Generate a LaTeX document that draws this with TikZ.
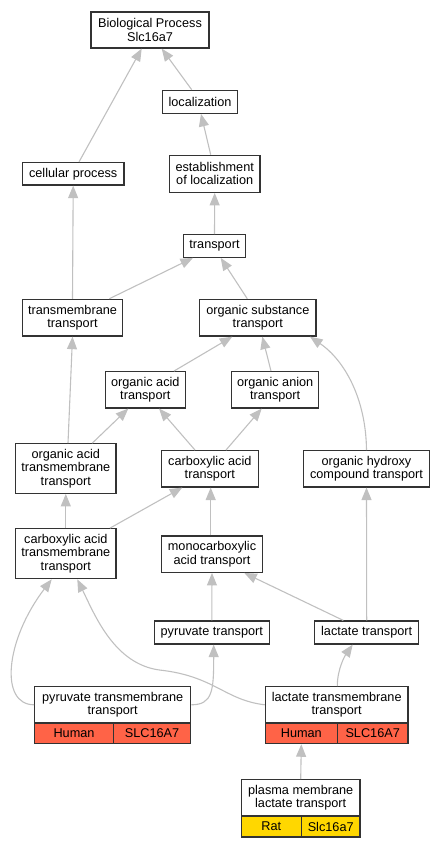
\documentclass[tikz,border=0pt]{standalone}
\usepackage{fontspec}
\setmainfont{Liberation Sans}
\usetikzlibrary{arrows.meta}
\definecolor{edgegray}{HTML}{C0C0C0}
\definecolor{bordergray}{HTML}{333333}
\definecolor{human}{HTML}{FF6347}
\definecolor{rat}{HTML}{FFD700}
\begin{document}
\begin{tikzpicture}[x=1pt,y=-1pt,
  box/.style={draw=bordergray, line width=1.2pt, fill=white, inner sep=0pt, align=center,
    font=\fontsize{12.7}{13.3}\selectfont},
  cell/.style={box, minimum height=20.7pt},
  edge/.style={draw=edgegray, line width=1.1pt, -{Triangle[length=12.5pt,width=10pt,fill=edgegray]}}
  ]
\useasboundingbox (0,0) rectangle (445,848);
% nodes
\node[box, minimum width=118pt, minimum height=36pt] (bp) at (150,30) {Biological Process\\Slc16a7};
\node[box, minimum width=74.6pt, minimum height=23pt] (loc) at (200,101.8) {localization};
\node[box, minimum width=101.7pt, minimum height=22.5pt] (cp) at (73.2,173.8) {cellular process};
\node[box, minimum width=90.7pt, minimum height=37pt] (est) at (214.7,173.8) {establishment\\of localization};
\node[box, minimum width=61.6pt, minimum height=22.6pt] (tr) at (214.5,246) {transport};
\node[box, minimum width=100.4pt, minimum height=36.7pt] (tmt) at (72.5,317.7) {transmembrane\\transport};
\node[box, minimum width=116.3pt, minimum height=36.7pt] (ost) at (257.8,317.7) {organic substance\\transport};
\node[box, minimum width=80pt, minimum height=36.3pt] (oat) at (145.3,389.8) {organic acid\\transport};
\node[box, minimum width=87pt, minimum height=36.3pt] (oant) at (275.2,389.8) {organic anion\\transport};
\node[box, minimum width=100.3pt, minimum height=49.6pt] (oatm) at (65.8,468.5) {organic acid\\transmembrane\\transport};
\node[box, minimum width=97pt, minimum height=36.3pt] (cat) at (209.8,468.8) {carboxylic acid\\transport};
\node[box, minimum width=125.7pt, minimum height=36.3pt] (ohc) at (366.5,468.8) {organic hydroxy\\compound transport};
\node[box, minimum width=100.3pt, minimum height=50pt] (catm) at (65.8,553.7) {carboxylic acid\\transmembrane\\transport};
\node[box, minimum width=101.3pt, minimum height=36.3pt] (mcat) at (212,554.2) {monocarboxylic\\acid transport};
\node[box, minimum width=115pt, minimum height=23pt] (pt) at (211.8,632.5) {pyruvate transport};
\node[box, minimum width=104pt, minimum height=23pt] (lt) at (366.7,632.5) {lactate transport};
% gene nodes
\node[box, minimum width=156pt, minimum height=36.3pt] (ptm) at (112.7,704.8) {pyruvate transmembrane\\transport};
\node[cell, fill=human, minimum width=78.6pt] (ptmH) at (74,733.3) {Human};
\node[cell, fill=human, minimum width=77.4pt] (ptmS) at (152,733.3) {SLC16A7};
\node[box, minimum width=142.7pt, minimum height=36.3pt] (ltm) at (336.7,704.8) {lactate transmembrane\\transport};
\node[cell, fill=human, minimum width=72pt] (ltmH) at (301.3,733.3) {Human};
\node[cell, fill=human, minimum width=70.7pt] (ltmS) at (372.7,733.3) {SLC16A7};
\node[box, minimum width=118.7pt, minimum height=36.3pt] (pml) at (300.7,797.8) {plasma membrane\\lactate transport};
\node[cell, fill=rat, minimum width=60pt, minimum height=21pt] (pmlR) at (271.3,826.5) {Rat};
\node[cell, fill=rat, minimum width=58.7pt, minimum height=21pt] (pmlS) at (330.7,826.5) {Slc16a7};
% edges
\draw[edge] ([xshift=5.8pt]cp.north) -- ([xshift=-8.3pt]bp.south);
\draw[edge] ([xshift=-8.3pt]loc.north) -- ([xshift=11.7pt]bp.south);
\draw[edge] ([xshift=-4pt]est.north) -- ([xshift=1pt]loc.south);
\draw[edge] (tr.north) -- (est.south);
\draw[edge] (tmt.north) -- (cp.south);
\draw[edge] ([xshift=36.8pt]tmt.north) -- ([xshift=-21.5pt]tr.south);
\draw[edge] ([xshift=-10.5pt]ost.north) -- ([xshift=6.2pt]tr.south);
\draw[edge] ([xshift=2.2pt]oatm.north) -- (tmt.south);
\draw[edge] ([xshift=28.7pt]oat.north) -- ([xshift=-25.5pt]ost.south);
\draw[edge] ([xshift=-4.2pt]oant.north) -- ([xshift=4.5pt]ost.south);
\draw[edge] (ohc.north) .. controls +(-0.5,-50.7) and +(35,24) .. ([xshift=52.2pt]ost.south);
\draw[edge] ([xshift=26.5pt]oatm.north) -- ([xshift=-17pt]oat.south);
\draw[edge] ([xshift=-14.8pt]cat.north) -- ([xshift=13.7pt]oat.south);
\draw[edge] ([xshift=16.2pt]cat.north) -- ([xshift=-13.5pt]oant.south);
\draw[edge] (catm.north) -- (oatm.south);
\draw[edge] ([xshift=44.2pt]catm.north) -- ([xshift=-27.5pt]cat.south);
\draw[edge] ([xshift=-1.3pt]mcat.north) -- ([xshift=0.9pt]cat.south);
\draw[edge] (lt.north) -- (ohc.south);
\draw[edge] (pt.north) -- (mcat.south);
\draw[edge] ([xshift=-23.4pt]lt.north) -- ([xshift=32.3pt]mcat.south);
\draw[edge] (ptm.west) .. controls +(-34.7,0) and +(-46.7,61.3) .. ([xshift=-14.1pt]catm.south);
\draw[edge] (ptm.east) .. controls +(21.3,0) and +(0,46) .. ([xshift=1.9pt]pt.south);
\draw[edge] (ltm.west) .. controls +(-40.3,-4.8) and +(55,6) .. ++(-105.3,-34.8)
  .. controls +(-45,-6) and +(17.7,36.3) .. ([xshift=11.5pt]catm.south);
\draw[edge] ([xshift=0.6pt]ltm.north) .. controls +(0,-17) and +(-7.7,11) .. ([xshift=-14pt]lt.south);
\draw[edge] (pml.north) -- (ltmH.south);
\end{tikzpicture}
\end{document}
